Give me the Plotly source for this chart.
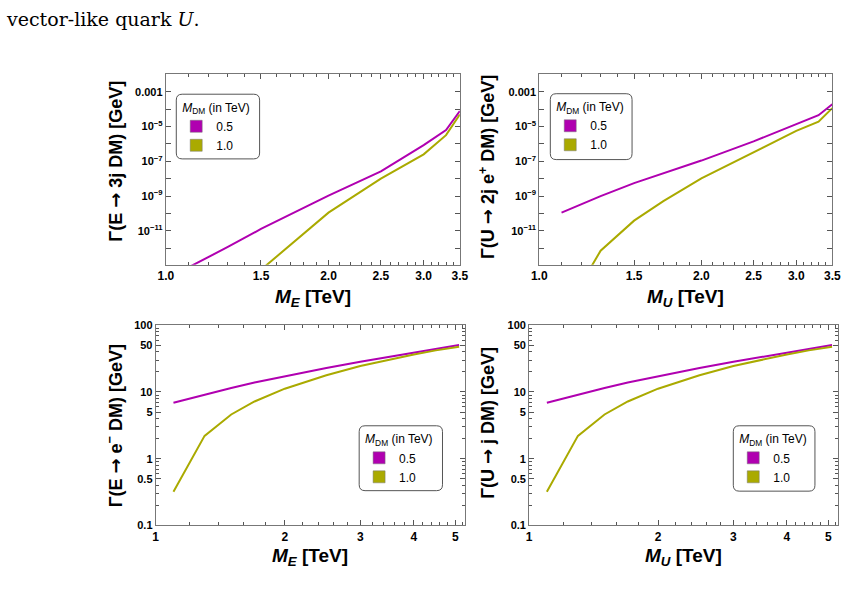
import math
import plotly.graph_objects as go

W, H = 856, 603

# ---------------- data ----------------
# top-left: Gamma(E -> 3j DM) [GeV]
tl_x_05 = [1.1, 1.3, 1.5, 1.7, 2.0, 2.5, 3.0, 3.3, 3.5]
tl_y_05 = [7.6e-14, 1.12e-12, 1.26e-11, 8.9e-11, 1.05e-9, 2.6e-8, 8.5e-7, 6.3e-6, 7.9e-5]
tl_x_10 = [1.5, 1.7, 2.0, 2.5, 3.0, 3.3, 3.5]
tl_y_10 = [5.6e-14, 1.6e-12, 1.1e-10, 1.0e-8, 2.5e-7, 3.2e-6, 5.0e-5]

# top-right: Gamma(U -> 2j e+ DM) [GeV]
tr_x_05 = [1.1, 1.3, 1.5, 1.7, 2.0, 2.5, 3.0, 3.3, 3.5]
tr_y_05 = [1.1e-10, 9.8e-10, 5.5e-9, 2.0e-8, 1.1e-7, 1.4e-6, 1.3e-5, 4.5e-5, 1.95e-4]
tr_x_10 = [1.2, 1.3, 1.5, 1.7, 2.0, 2.5, 3.0, 3.3, 3.5]
tr_y_10 = [1.0e-14, 7.1e-13, 3.8e-11, 5.1e-10, 1.05e-8, 3.4e-7, 5.6e-6, 1.9e-5, 1.15e-4]

# bottom-left: Gamma(E -> e- DM) [GeV]
bl_x = [1.1, 1.3, 1.5, 1.7, 2.0, 2.5, 3.0, 3.5, 4.0, 4.5, 5.1]
bl_y_05 = [6.9, 9.2, 11.5, 13.9, 17.3, 22.8, 28.3, 33.6, 39.0, 44.5, 50.5]
bl_y_10 = [0.32, 2.2, 4.6, 7.2, 11.2, 17.8, 24.5, 30.5, 36.5, 42.0, 47.5]

# bottom-right: Gamma(U -> j DM) [GeV]
br_x = [1.1, 1.3, 1.5, 1.7, 2.0, 2.5, 3.0, 3.5, 4.0, 4.5, 5.1]
br_y_05 = [6.9, 9.2, 11.5, 13.9, 17.3, 22.8, 28.3, 33.6, 39.0, 44.5, 50.5]
br_y_10 = [0.32, 2.2, 4.6, 7.2, 11.2, 17.8, 24.5, 30.5, 36.5, 42.0, 47.5]

dm_labels = ["0.5", "1.0"]

# tick definitions
top_xticks = [1.0, 1.5, 2.0, 2.5, 3.0, 3.5]
top_xticktext = ["1.0", "1.5", "2.0", "2.5", "3.0", "3.5"]
top_xminor = [1.1, 1.2, 1.3, 1.4, 1.6, 1.7, 1.8, 1.9, 2.1, 2.2, 2.3, 2.4,
              2.6, 2.7, 2.8, 2.9, 3.1, 3.2, 3.3, 3.4]
top_yticks = [1e-12, 1e-11, 1e-10, 1e-9, 1e-8, 1e-7, 1e-6, 1e-5, 1e-4, 1e-3, 1e-2]
top_yticktext = ["", "10<sup>−11</sup>", "", "10<sup>−9</sup>", "", "10<sup>−7</sup>",
                 "", "10<sup>−5</sup>", "", "0.001", ""]
bot_xticks = [1, 2, 3, 4, 5]
bot_xticktext = ["1", "2", "3", "4", "5"]
bot_xminor = [1.2, 1.4, 1.6, 1.8, 2.2, 2.4, 2.6, 2.8, 3.2, 3.4, 3.6, 3.8,
              4.2, 4.4, 4.6, 4.8, 5.2]
bot_yticks = [0.1, 0.5, 1, 5, 10, 50, 100]
bot_yticktext = ["0.1", "0.5", "1", "5", "10", "50", "100"]
bot_yminor = [0.2, 0.3, 0.4, 0.6, 0.7, 0.8, 0.9, 2, 3, 4, 6, 7, 8, 9,
              20, 30, 40, 60, 70, 80, 90]

C05 = "#B000B0"
C10 = "#AAAA00"
FONT = "Liberation Sans"


def fx(px):
    return px / W


def fy(py):
    return 1 - py / H


fig = go.Figure()

panels = [
    ("x", "y", "legend", tl_x_05, tl_y_05, tl_x_10, tl_y_10),
    ("x2", "y2", "legend2", tr_x_05, tr_y_05, tr_x_10, tr_y_10),
    ("x3", "y3", "legend3", bl_x, bl_y_05, bl_x, bl_y_10),
    ("x4", "y4", "legend4", br_x, br_y_05, br_x, br_y_10),
]
for xa, ya, lg, x05, y05, x10, y10 in panels:
    fig.add_trace(go.Scatter(x=x05, y=y05, mode="lines", xaxis=xa, yaxis=ya,
                             line=dict(color=C05, width=2), showlegend=False))
    fig.add_trace(go.Scatter(x=x10, y=y10, mode="lines", xaxis=xa, yaxis=ya,
                             line=dict(color=C10, width=2), showlegend=False))
    for name, col in zip(dm_labels, [C05, C10]):
        fig.add_trace(go.Scatter(x=[None], y=[None], mode="markers", xaxis=xa, yaxis=ya,
                                 name=name, legend=lg,
                                 marker=dict(symbol="square", size=12, color=col,
                                             line=dict(color="#777", width=0.5))))


def axis(domain, rng, tickvals, ticktext, minor_vals, anchor, fsize):
    d = dict(domain=domain, type="log", range=rng, tickmode="array",
             tickvals=tickvals, ticktext=ticktext, ticks="inside", ticklen=5,
             tickcolor="#555", tickwidth=1, showline=True, linecolor="#777",
             linewidth=1, mirror="allticks", showgrid=False, zeroline=False,
             tickfont=dict(family=FONT, size=fsize, color="black", weight="bold"),
             anchor=anchor)
    if minor_vals:
        d["minor"] = dict(tickmode="array", tickvals=minor_vals, ticks="inside",
                          ticklen=3, tickcolor="#555", showgrid=False)
    return d


top_xr = [0, math.log10(3.5)]
top_yr = [-12.96, -1.95]
bot_xr = [0, math.log10(5.27)]
bot_yr = [-1, 2]

dom_tl_x = [fx(161), fx(461)]
dom_tr_x = [fx(542), fx(841)]
dom_bl_x = [fx(150.7), fx(466.5)]
dom_br_x = [fx(531.7), fx(847)]
dom_top_y = [fy(264), fy(69)]
dom_bot_y = [fy(530), fy(325.7)]

fig.update_layout(
    xaxis=axis(dom_tl_x, top_xr, top_xticks, top_xticktext, top_xminor, "y", 12),
    yaxis=axis(dom_top_y, top_yr, top_yticks, top_yticktext, None, "x", 11),
    xaxis2=axis(dom_tr_x, top_xr, top_xticks, top_xticktext, top_xminor, "y2", 12),
    yaxis2=axis(dom_top_y, top_yr, top_yticks, top_yticktext, None, "x2", 11),
    xaxis3=axis(dom_bl_x, bot_xr, bot_xticks, bot_xticktext, bot_xminor, "y3", 12),
    yaxis3=axis(dom_bot_y, bot_yr, bot_yticks, bot_yticktext, bot_yminor, "x3", 11),
    xaxis4=axis(dom_br_x, bot_xr, bot_xticks, bot_xticktext, bot_xminor, "y4", 12),
    yaxis4=axis(dom_bot_y, bot_yr, bot_yticks, bot_yticktext, bot_yminor, "x4", 11),
)

# legends (rounded boxes drawn as shapes)
leg_boxes = {"legend": (171.7, 90, 256.7, 156), "legend2": (553.3, 89.5, 636.7, 156.7),
             "legend3": (358.3, 428.3, 443.3, 494.5), "legend4": (740, 428.3, 823.3, 495)}
shapes = []


def rounded(x0, y0, x1, y1, r=6):
    def P(x, y):
        return f"{fx(x):.5f},{fy(y):.5f}"
    return ("M " + P(x0 + r, y0) + " L " + P(x1 - r, y0) + " Q " + P(x1, y0) + " " + P(x1, y0 + r) +
            " L " + P(x1, y1 - r) + " Q " + P(x1, y1) + " " + P(x1 - r, y1) +
            " L " + P(x0 + r, y1) + " Q " + P(x0, y1) + " " + P(x0, y1 - r) +
            " L " + P(x0, y0 + r) + " Q " + P(x0, y0) + " " + P(x0 + r, y0) + " Z")


for lg, (x0, y0, x1, y1) in leg_boxes.items():
    shapes.append(dict(type="path", xref="paper", yref="paper", path=rounded(x0, y0, x1, y1),
                       line=dict(color="#555", width=1), fillcolor="white", layer="above"))
    fig.layout[lg] = dict(x=fx(x0 + 4), y=fy(y0 + 2), xanchor="left", yanchor="top",
                          bgcolor="rgba(0,0,0,0)", borderwidth=0, indentation=-4,
                          title=dict(text="<i>M</i><sub>DM</sub> (in TeV)", side="top",
                                     font=dict(family=FONT, size=12, color="black")),
                          font=dict(family=FONT, size=12, color="black"),
                          tracegroupgap=0, itemsizing="trace")

# axis titles as annotations
ARROW = "<span style='font-family:DejaVu Sans'>→</span>"
ann = []
xt_font = dict(family=FONT, size=19, color="black", weight="bold")
yt_font = dict(family=FONT, size=18, color="black", weight="bold")
ann.append(dict(text="<i>M</i><sub><i>E</i></sub> [TeV]", x=fx(311), y=fy(298), font=xt_font))
ann.append(dict(text="<i>M</i><sub><i>U</i></sub> [TeV]", x=fx(691.5), y=fy(298), font=xt_font))
ann.append(dict(text="<i>M</i><sub><i>E</i></sub> [TeV]", x=fx(308.6), y=fy(561.7), font=xt_font))
ann.append(dict(text="<i>M</i><sub><i>U</i></sub> [TeV]", x=fx(689.3), y=fy(561.7), font=xt_font))
ann.append(dict(text=f"Γ(E {ARROW} 3j DM) [GeV]", x=fx(110), y=fy(158), textangle=-90, font=yt_font))
ann.append(dict(text=f"Γ(U {ARROW} 2j e<sup>+</sup> DM) [GeV]", x=fx(489), y=fy(164), textangle=-90, font=yt_font))
ann.append(dict(text=f"Γ(E {ARROW} e<sup>−</sup> DM) [GeV]", x=fx(109), y=fy(428), textangle=-90, font=yt_font))
ann.append(dict(text=f"Γ(U {ARROW} j DM) [GeV]", x=fx(489), y=fy(425), textangle=-90, font=yt_font))
for a in ann:
    a.update(xref="paper", yref="paper", showarrow=False, xanchor="center", yanchor="middle")

# caption line above the figure
ann.append(dict(text="vector-like quark <i>U</i>.", x=fx(-4), y=fy(13), xref="paper", yref="paper",
                showarrow=False, xanchor="left", yanchor="middle",
                font=dict(family="DejaVu Serif", size=19, color="black")))

fig.update_layout(width=W, height=H, margin=dict(l=0, r=0, t=0, b=0),
                  paper_bgcolor="white", plot_bgcolor="white",
                  annotations=ann, shapes=shapes, showlegend=True)

fig.write_html("out.html")
